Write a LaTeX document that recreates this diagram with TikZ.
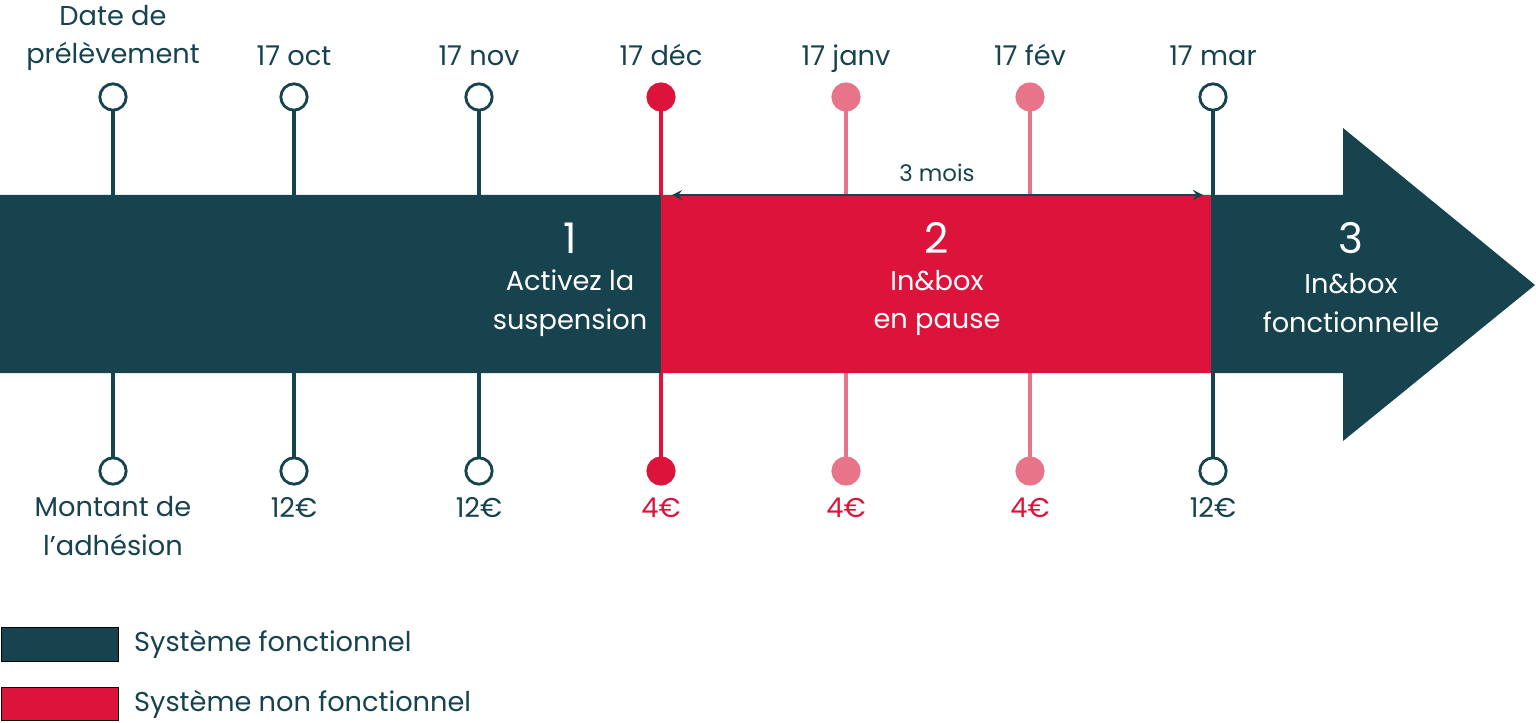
\documentclass[tikz,border=0pt]{standalone}
\usepackage{fontspec}
\setmainfont{Poppins}
\definecolor{teal}{HTML}{17434E}
\definecolor{rouge}{HTML}{DC143C}
\definecolor{rose}{HTML}{E8748A}
\tikzset{
  dot/.style={circle, draw=#1, line width=1.6pt, fill=white, minimum size=15pt, inner sep=0pt},
  lbl/.style={text=teal, font=\fontsize{15.5}{22}\selectfont, align=center},
  big/.style={text=white, font=\fontsize{24}{24}\selectfont},
  inb/.style={text=white, font=\fontsize{15.5}{22}\selectfont, align=center}
}
\begin{document}
\begin{tikzpicture}[x=0.02cm, y=-0.02cm]
  \useasboundingbox (0,0) rectangle (1536,723);
  % jalons
  \foreach \x/\c/\f/\top/\bot [count=\n] in {113/teal/white/Date de\\prélèvement/Montant de\\l\char"0027adhésion,
      294/teal/white/17 oct/12€, 479/teal/white/17 nov/12€, 661/rouge/rouge/17 déc/4€,
      846/rose/rose/17 janv/4€, 1030/rose/rose/17 fév/4€, 1213/teal/white/17 mar/12€}
  {
    \draw [\c, line width=2.5pt] (\x,97) -- (\x,471);
    \node [dot=\c, fill=\f] (t\n) at (\x,97) {};
    \node [dot=\c, fill=\f] (b\n) at (\x,471) {};
    \ifnum\n=1
      \node [lbl, anchor=south] (tl\n) at (\x,77) {\top};
      \node [lbl, anchor=north] (bl\n) at (\x,490) {\bot};
    \else
      \node [lbl, text=\ifnum\n>3 \ifnum\n<7 rouge\else teal\fi\else teal\fi, anchor=base] (bl\n) at (\x,517) {\bot};
      \node [lbl, anchor=base] (tl\n) at (\x,66) {\top};
    \fi
  }
  % bande
  \fill [teal] (0,195) -- (1343,195) -- (1343,128) -- (1535,285) -- (1343,441) -- (1343,373) -- (0,373) -- cycle;
  \fill [rouge] (661,195) rectangle (1213,373);
  \draw [teal, line width=2.5pt] (1213,195) -- (1213,373);
  % duree
  \coordinate (d1) at (672,195);
  \coordinate (d2) at (1203,195);
  \draw [teal, line width=1.5pt, <->, >=stealth] (d1) -- (d2);
  \node [lbl, font=\fontsize{13}{14}\selectfont] (mois) at (937,173) {3 mois};
  % etapes
  \node [big] (n1) at (570,238) {1};
  \node [inb] (e1) at (570,303) {Activez la\\suspension};
  \node [big] (n2) at (937,238) {2};
  \node [inb] (e2) at (937,303) {In\&box\\en pause};
  \node [big] (n3) at (1351,238) {3};
  \node [inb] (e3) at (1351,303) {In\&box\\fonctionnelle};
  % legende
  \draw [fill=teal, draw=black] (1,627) rectangle (118,661);
  \node [lbl, anchor=west] (g1) at (128,644) {Système fonctionnel};
  \draw [fill=rouge, draw=black] (1,687) rectangle (118,720);
  \node [lbl, anchor=west] (g2) at (128,704) {Système non fonctionnel};
\end{tikzpicture}
\end{document}
